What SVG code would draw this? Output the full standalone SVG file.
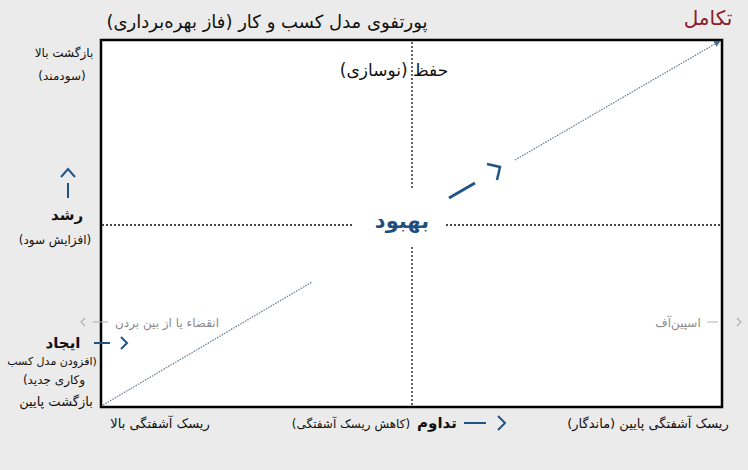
<svg xmlns="http://www.w3.org/2000/svg" width="748" height="470" viewBox="0 0 748 470">
<style>
text{font-family:"DejaVu Sans","Noto Sans",sans-serif;fill:#111;text-anchor:middle}
.s{font-size:12px}
.m{font-size:13px}
.b{font-size:15px;font-weight:bold}
.g{fill:#8a8a8a;font-size:12px}
.blue{stroke:#1f5585;fill:none;stroke-width:2}
.grey{stroke:#b0b0b0;fill:none;stroke-width:1.2}
.dash{stroke:#111;stroke-width:1.3;stroke-dasharray:2 2;fill:none}
</style>
<defs>
<marker id="ah" viewBox="0 0 10 10" refX="9" refY="5" markerWidth="5" markerHeight="5" orient="auto"><path d="M0,0 L10,5 L0,10 z" fill="#4a6a8a"/></marker>
</defs>
<rect width="748" height="470" fill="#ebebeb"/>
<g id="frame">
<rect x="101" y="40" width="621" height="367" fill="#fff" stroke="#000" stroke-width="2.5"/>
</g>
<g id="connectors">
<path class="dash" d="M412 42 V188 M412 247 V406"/>
<path class="dash" d="M102 225 H352 M446 225 H721"/>
<path d="M103 405 L312 282" stroke="#6d7f94" stroke-width="1.3" stroke-dasharray="1.5 1.2" fill="none"/>
<path d="M515 160 L720 41" stroke="#6d7f94" stroke-width="1.3" stroke-dasharray="1.5 1.2" fill="none" marker-end="url(#ah)"/>
<path d="M449 198 L475 183" stroke="#1f5585" stroke-width="3" fill="none"/>
<path d="M487 164 L500 167 L497 180" stroke="#1f5585" stroke-width="2.5" fill="none"/>
<path class="blue" d="M61 177 L68 169 L75 177 M68 183 V198"/>
<path class="blue" d="M94 343 H110 M121 337 L127 343 L121 349"/>
<path class="grey" d="M93 322 H108 M85 318 L81 322 L85 326"/>
<path class="grey" d="M707 322 H718 M737 318 L741 322 L737 326"/>
<path class="blue" d="M464 423 H486 M498 416 L505 423 L498 430"/>
</g>
<g id="title"><text x="267" y="28" style="font-size:18px" direction="rtl">پورتفوی مدل کسب و کار (فاز بهره‌برداری)</text></g>
<g id="evolution"><text x="708" y="25" style="font-size:20px;fill:#8b1c2c" direction="rtl">تکامل</text></g>
<g id="high-return">
<text class="s" x="64" y="57" direction="rtl">بازگشت بالا</text>
<text class="s" x="62" y="80" direction="rtl">(سودمند)</text>
</g>
<g id="maintain"><text x="394" y="76" style="font-size:17px" direction="rtl">حفظ (نوسازی)</text></g>
<g id="growth">
<text class="b" x="67" y="220" direction="rtl">رشد</text>
<text class="s" x="55" y="244" direction="rtl">(افزایش سود)</text>
</g>
<g id="improve">
<rect x="352" y="188" width="94" height="59" fill="#fff"/>
<text x="402" y="228" style="font-size:21px;font-weight:bold;fill:#1f4f7e" direction="rtl">بهبود</text>
</g>
<g id="expire"><text class="g" x="167" y="327" direction="rtl">انقضاء یا از بین بردن</text></g>
<g id="spinoff"><text class="g" x="678" y="327" direction="rtl">اسپین‌آف</text></g>
<g id="create">
<text class="b" x="63" y="348" direction="rtl">ایجاد</text>
<text x="52" y="365" style="font-size:11px" direction="rtl">(افزودن مدل کسب</text>
<text class="s" x="54" y="384" direction="rtl">وکاری جدید)</text>
</g>
<g id="low-return"><text x="56" y="406" style="font-size:13px" direction="rtl">بازگشت پایین</text></g>
<g id="high-risk"><text class="m" x="160" y="428" direction="rtl">ریسک آشفتگی بالا</text></g>
<g id="continue">
<text class="s" x="351" y="428" direction="rtl">(کاهش ریسک آشفتگی)</text>
<text class="b" x="437" y="428" direction="rtl">تداوم</text>
</g>
<g id="low-risk"><text class="m" x="648" y="428" direction="rtl">ریسک آشفتگی پایین (ماندگار)</text></g>
</svg>
